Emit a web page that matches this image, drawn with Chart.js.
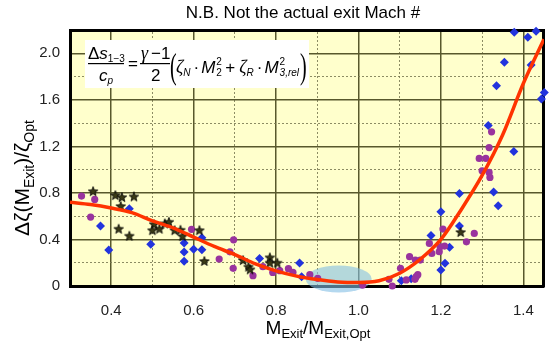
<!DOCTYPE html>
<html>
<head>
<meta charset="utf-8">
<script src="https://cdn.jsdelivr.net/npm/chart.js@4.4.1/dist/chart.umd.min.js"></script>
<style>
  html, body { margin: 0; padding: 0; background: #fff; }
</style>
</head>
<body>
<canvas id="lossChart" width="550" height="349"></canvas>
<script>
// axis ticks
const xTicks = [0.4, 0.6, 0.8, 1.0, 1.2, 1.4];
const xMinorTicks = [0.5, 0.7, 0.9, 1.1, 1.3];
const yTicks = [0, 0.4, 0.8, 1.2, 1.6, 2.0];
const yMinorTicks = [0.2, 0.6, 1.0, 1.4, 1.8];

// fitted loss curve
const fitX = [0.30, 0.35, 0.40, 0.45, 0.50, 0.55, 0.60, 0.65, 0.70, 0.75, 0.80, 0.85,
              0.90, 0.95, 1.00, 1.05, 1.10, 1.15, 1.20, 1.25, 1.30, 1.35, 1.40, 1.45];
const fitY = [0.72, 0.70, 0.67, 0.63, 0.56, 0.50, 0.42, 0.34, 0.27, 0.19, 0.13, 0.085,
              0.055, 0.035, 0.03, 0.045, 0.11, 0.23, 0.40, 0.66, 0.95, 1.30, 1.74, 2.12];

// blue diamonds
const blueX = [0.374, 0.394, 0.444, 0.496, 0.577, 0.577, 0.577, 0.600, 0.620, 0.620, 0.760, 0.857,
               0.862, 1.104, 1.128, 1.176, 1.200, 1.210, 1.200, 1.221, 1.245, 1.245, 1.328, 1.339,
               1.377, 1.315, 1.335, 1.354, 1.419, 1.378, 1.411, 1.431, 1.419, 1.451, 1.444];
const blueY = [0.515, 0.309, 0.664, 0.358, 0.369, 0.292, 0.212, 0.315, 0.415, 0.312, 0.237, 0.197,
               0.080, 0.046, 0.063, 0.435, 0.638, 0.195, 0.137, 0.332, 0.795, 0.515, 0.807, 0.690,
               1.155, 1.379, 1.720, 1.923, 1.900, 2.180, 2.137, 2.190, 2.255, 1.663, 1.606];

// purple circles
const purpleX = [0.328, 0.360, 0.350, 0.595, 0.697, 0.688, 0.662, 0.696, 0.744, 0.768, 0.792, 0.809,
                 0.830, 0.841, 0.882, 0.901, 1.010, 1.074, 1.082, 1.102, 1.116, 1.124, 1.137, 1.140,
                 1.144, 1.138, 1.150, 1.172, 1.178, 1.196, 1.198, 1.205, 1.209, 1.262, 1.281, 1.293,
                 1.309, 1.300, 1.317, 1.319, 1.323, 1.317];
const purpleY = [0.773, 0.744, 0.592, 0.487, 0.397, 0.294, 0.232, 0.152, 0.089, 0.166, 0.117, 0.132,
                 0.149, 0.117, 0.097, 0.066, 0.008, 0.057, 0.000, 0.152, 0.052, 0.252, 0.057, 0.080,
                 0.097, 0.223, 0.223, 0.366, 0.280, 0.295, 0.337, 0.489, 0.343, 0.380, 0.452, 1.096,
                 1.096, 0.990, 0.976, 0.933, 1.325, 1.190];

// stars
const starX = [0.356, 0.410, 0.426, 0.455, 0.423, 0.418, 0.444, 0.504, 0.500, 0.517, 0.530, 0.540,
               0.554, 0.568, 0.573, 0.614, 0.626, 0.720, 0.733, 0.737, 0.785, 0.785, 0.803, 1.248];
const starY = [0.815, 0.781, 0.764, 0.770, 0.687, 0.492, 0.432, 0.532, 0.480, 0.492, 0.538, 0.552,
               0.480, 0.483, 0.429, 0.480, 0.215, 0.223, 0.166, 0.143, 0.246, 0.200, 0.200, 0.464];

const pts = (xs, ys) => xs.map((x, i) => ({ x: x, y: ys[i] }));

const SANS = '"Liberation Sans", Arial, sans-serif';
const SERIF = '"Liberation Serif", "Times New Roman", serif';
const fnt = (style, size, fam) => `${style} ${size}px ${fam}`;

// five-point star marker
const starImg = document.createElement('canvas');
starImg.width = 12;
starImg.height = 12;
(function () {
  const c = starImg.getContext('2d');
  c.beginPath();
  for (let i = 0; i < 10; i++) {
    const r = i % 2 ? 2.1 : 5;
    const a = -Math.PI / 2 + i * Math.PI / 5;
    c.lineTo(6 + r * Math.cos(a), 6.5 + r * Math.sin(a));
  }
  c.closePath();
  c.fillStyle = '#3a3a16';
  c.fill();
  c.lineWidth = 0.8;
  c.strokeStyle = '#000';
  c.stroke();
})();

function runsWidth(ctx, runs) {
  let w = 0;
  runs.forEach((r) => {
    if (typeof r === 'number') { w += r; return; }
    ctx.font = r[1];
    w += ctx.measureText(r[0]).width;
  });
  return w;
}

// draws text pieces side by side; a number in the list is a gap in px
function drawRuns(ctx, runs, x, y) {
  runs.forEach((r) => {
    if (typeof r === 'number') { x += r; return; }
    ctx.font = r[1];
    ctx.fillText(r[0], x, y + (r[2] || 0));
    x += ctx.measureText(r[0]).width;
  });
  return x;
}

const backdrop = {
  id: 'backdrop',
  beforeDraw(chart) {
    const { ctx, chartArea: a } = chart;
    ctx.save();
    ctx.fillStyle = '#fff';
    ctx.fillRect(0, 0, chart.width, chart.height);
    ctx.fillStyle = '#ffffcc';
    ctx.fillRect(a.left, a.top, a.right - a.left, a.bottom - a.top);
    ctx.restore();
  },
  beforeDatasetsDraw(chart) {
    // optimum region marker
    const { ctx, scales } = chart;
    ctx.save();
    ctx.fillStyle = 'rgba(130, 190, 228, 0.6)';
    ctx.beginPath();
    ctx.ellipse(scales.x.getPixelForValue(0.952), scales.y.getPixelForValue(0.06), 33, 13.5, 0, 0, 2 * Math.PI);
    ctx.fill();
    ctx.restore();
  },
};

const labels = {
  id: 'labels',
  afterDraw(chart) {
    const { ctx, chartArea: a } = chart;
    ctx.save();
    ctx.fillStyle = '#000';
    ctx.textBaseline = 'alphabetic';

    // title
    ctx.font = fnt('normal', 17, SANS);
    ctx.textAlign = 'center';
    ctx.fillText('N.B. Not the actual exit Mach #', 303, 18);
    ctx.textAlign = 'left';

    // x axis title
    const xRuns = [['M', fnt('normal', 19, SANS)], ['Exit', fnt('normal', 13, SANS), 4],
                   ['/M', fnt('normal', 19, SANS)], ['Exit,Opt', fnt('normal', 13, SANS), 4]];
    drawRuns(ctx, xRuns, 318 - runsWidth(ctx, xRuns) / 2, 334);

    // y axis title
    const yRuns = [['Δζ(M', fnt('normal', 21, SANS)], ['Exit', fnt('normal', 14, SANS), 5],
                   [')/ζ', fnt('normal', 21, SANS)], ['Opt', fnt('normal', 14, SANS), 5]];
    ctx.save();
    ctx.translate(29, 178);
    ctx.rotate(-Math.PI / 2);
    drawRuns(ctx, yRuns, -runsWidth(ctx, yRuns) / 2, 0);
    ctx.restore();

    // entropy rise formula
    const bx = a.left + 15;
    const by = a.top + 10;
    ctx.fillStyle = '#fff';
    ctx.fillRect(bx, by, 224, 48);
    ctx.fillStyle = '#000';
    const big = fnt('normal', 17, SANS);
    const bigI = fnt('italic', 17, SANS);
    const greek = fnt('italic', 18, SERIF);
    const small = fnt('normal', 10, SANS);
    const smallI = fnt('italic', 10, SANS);

    drawRuns(ctx, [['Δ', big], ['s', bigI], ['1−3', small, 3]], bx + 3, by + 19);
    ctx.fillRect(bx + 3, by + 23, 36, 1.2);
    const den = [['c', bigI], ['p', smallI, 3]];
    drawRuns(ctx, den, bx + 21 - runsWidth(ctx, den) / 2, by + 41);
    drawRuns(ctx, [['=', big]], bx + 43, by + 29);
    drawRuns(ctx, [['γ', greek], 3, ['−1', big]], bx + 56, by + 19);
    ctx.fillRect(bx + 55, by + 23, 30, 1.2);
    drawRuns(ctx, [['2', big]], bx + 66, by + 41);

    const paren = (ch, x) => {
      ctx.save();
      ctx.translate(x, by + 38);
      ctx.scale(1, 1.75);
      ctx.font = fnt('normal', 20, SERIF);
      ctx.fillText(ch, 0, 0);
      ctx.restore();
    };
    paren('(', bx + 85);
    const base = by + 33;
    let cx = drawRuns(ctx, [['ζ', greek], ['N', smallI, 3], 3, ['·', big], 2, ['M', bigI]], bx + 91, base);
    ctx.font = small;
    ctx.fillText('2', cx + 1, base - 8);
    ctx.fillText('2', cx + 1, base + 3);
    cx += 10;
    cx = drawRuns(ctx, [['+', big], 4, ['ζ', greek], ['R', smallI, 3], 3, ['·', big], 2, ['M', bigI]], cx, base);
    ctx.font = small;
    ctx.fillText('2', cx + 1, base - 8);
    ctx.font = smallI;
    ctx.fillText('3,rel', cx + 1, base + 3);
    paren(')', bx + 215);
    ctx.restore();
  },
};

const gridMajor = '#58582c';
const gridMinor = 'rgba(120, 120, 80, 0.85)';
const tickFont = { family: SANS, size: 15 };

new Chart(document.getElementById('lossChart'), {
  type: 'scatter',
  data: {
    datasets: [
      {
        type: 'line',
        data: pts(fitX, fitY),
        borderColor: '#ff3300',
        borderWidth: 3.5,
        pointRadius: 0,
        cubicInterpolationMode: 'monotone',
        fill: false,
      },
      {
        data: pts(starX, starY),
        pointStyle: starImg,
        clip: false,
      },
      {
        data: pts(purpleX, purpleY),
        pointStyle: 'circle',
        pointRadius: 3.6,
        backgroundColor: '#99339e',
        borderWidth: 0,
        clip: false,
      },
      {
        data: pts(blueX, blueY),
        pointStyle: 'rectRot',
        pointRadius: 4.5,
        backgroundColor: '#2233dd',
        borderWidth: 0,
        clip: false,
      },
    ],
  },
  options: {
    responsive: false,
    animation: false,
    events: [],
    layout: { padding: { top: 30, right: 2, left: 0, bottom: 0 } },
    plugins: { legend: { display: false }, tooltip: { enabled: false } },
    scales: {
      x: {
        type: 'linear',
        position: 'bottom',
        min: 0.3,
        max: 1.45,
        afterBuildTicks: (s) => { s.ticks = xTicks.map((v) => ({ value: v })); },
        afterFit: (s) => { s.height = 63; },
        grid: { color: gridMajor, lineWidth: 1.5, drawTicks: false },
        border: { display: true, color: '#000', width: 3 },
        ticks: { padding: 16, font: tickFont, color: '#222', maxRotation: 0, autoSkip: false,
                 callback: (v) => v.toFixed(1) },
      },
      xMinor: {
        type: 'linear',
        position: 'top',
        min: 0.3,
        max: 1.45,
        afterBuildTicks: (s) => { s.ticks = xMinorTicks.map((v) => ({ value: v })); },
        afterFit: (s) => { s.height = 0; },
        grid: { color: gridMinor, lineWidth: 1, drawTicks: false },
        border: { display: true, color: '#000', width: 3, dash: [2, 2] },
        ticks: { display: false },
      },
      y: {
        type: 'linear',
        position: 'left',
        min: 0,
        max: 2.2,
        afterBuildTicks: (s) => { s.ticks = yTicks.map((v) => ({ value: v })); },
        afterFit: (s) => { s.width = 70; },
        grid: { color: gridMajor, lineWidth: 1.5, drawTicks: false },
        border: { display: true, color: '#000', width: 3 },
        ticks: { padding: 10, font: tickFont, color: '#222',
                 callback: (v) => (v === 0 ? '0' : v.toFixed(1)) },
      },
      yMinor: {
        type: 'linear',
        position: 'right',
        min: 0,
        max: 2.2,
        afterBuildTicks: (s) => { s.ticks = yMinorTicks.map((v) => ({ value: v })); },
        afterFit: (s) => { s.width = 0; },
        grid: { color: gridMinor, lineWidth: 1, drawTicks: false },
        border: { display: true, color: '#000', width: 3, dash: [2, 2] },
        ticks: { display: false },
      },
    },
  },
  plugins: [backdrop, labels],
});
</script>
</body>
</html>
